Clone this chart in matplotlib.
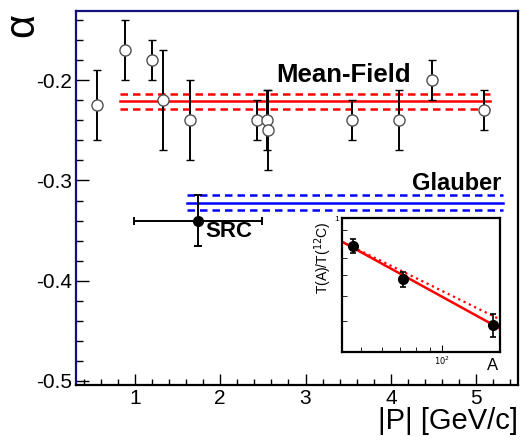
import matplotlib
matplotlib.use("Agg")
import matplotlib.pyplot as plt
import numpy as np

plt.rcParams['font.family'] = ['Liberation Sans', 'DejaVu Sans']
plt.rcParams['axes.unicode_minus'] = False

# ---- data ----
p_mom = [0.56, 0.88, 1.20, 1.33, 1.65, 2.43, 2.545, 2.56, 3.54, 4.10, 4.48, 5.09]
alpha_vals = [-0.225, -0.17, -0.18, -0.22, -0.24, -0.24, -0.24, -0.25, -0.24, -0.24, -0.20, -0.23]
alpha_err = [0.035, 0.03, 0.02, 0.05, 0.04, 0.02, 0.03, 0.04, 0.02, 0.03, 0.02, 0.02]

mf_value, mf_err = -0.221, 0.0075
mf_range = [0.82, 5.16]
gl_value, gl_err = -0.322, 0.007
gl_range = [1.61, 5.32]

src_p, src_perr = 1.74, 0.75
src_alpha, src_aerr = -0.34, 0.025

# inset
ins_A = [46.7, 71.7, 154.0]
ins_T = [0.782, 0.579, 0.385]
ins_Terr = [0.05, 0.04, 0.038]
ins_xlim = [42.6, 164.0]
ins_ylim = [0.303, 1.0]
fit_norm = 0.811          # value at A = ins_xlim[0]
fit_slopes = [-0.577, -0.516]

# ---- figure ----
fig = plt.figure(figsize=(5.2, 4.41), dpi=100)
ax = fig.add_axes([76/520, 1-385/441, (518-76)/520, (385-11)/441])
ax.set_xlim(0.31, 5.49)
ax.set_ylim(-0.504, -0.131)

navy = '#12127a'
for s in ['left', 'top']:
    ax.spines[s].set_color(navy)
for s in ax.spines.values():
    s.set_linewidth(1.6)

ax.set_yticks([-0.5, -0.4, -0.3, -0.2])
ax.set_yticklabels(['-0.5', '-0.4', '-0.3', '-0.2'])
ax.set_yticks(np.arange(-0.50, -0.13, 0.02), minor=True)
ax.set_xticks([1, 2, 3, 4, 5])
ax.set_xticks(np.arange(0.4, 5.5, 0.2), minor=True)
ax.tick_params(axis='both', which='both', direction='in', width=1.0, labelsize=15, pad=3)
ax.tick_params(axis='y', which='major', length=9.5)
ax.tick_params(axis='y', which='minor', length=5)
ax.tick_params(axis='x', which='major', length=8)
ax.tick_params(axis='x', which='minor', length=4)

# mean-field band
ax.plot(mf_range, [mf_value]*2, color='red', lw=1.8)
for sgn in (-1, 1):
    ax.plot(mf_range, [mf_value + sgn*mf_err]*2, color='red', lw=1.8, ls=(0, (3, 2)))
# glauber band
ax.plot(gl_range, [gl_value]*2, color='blue', lw=1.8)
for sgn in (-1, 1):
    ax.plot(gl_range, [gl_value + sgn*gl_err]*2, color='blue', lw=1.8, ls=(0, (3, 2)))

# data
ax.errorbar(p_mom, alpha_vals, yerr=alpha_err, fmt='o', ms=8, mfc='white', mec='#505050',
            mew=1.0, ecolor='black', elinewidth=1.4, capsize=3, capthick=1.4, zorder=5)
ax.errorbar([src_p], [src_alpha], xerr=[src_perr], yerr=[src_aerr], fmt='o', ms=7,
            color='black', elinewidth=1.4, capsize=3, capthick=1.4, zorder=6)

ax.text(2.66, -0.2017, 'Mean-Field', fontsize=18.5, fontweight='bold', ha='left', va='baseline')
ax.text(5.30, -0.310, 'Glauber', fontsize=17, fontweight='bold', ha='right', va='baseline')
ax.text(1.83, -0.3567, 'SRC', fontsize=16, fontweight='bold', ha='left', va='baseline')

ax.set_xlabel('|P| [GeV/c]', fontsize=21, ha='right', va='center')
ax.xaxis.set_label_coords(1.0, -(421-385)/374)
ax.set_ylabel('α', fontsize=30, ha='center', va='center')
ax.yaxis.set_label_coords((22-76)/442, (385-25)/374)

# ---- inset ----
ax2 = fig.add_axes([342/520, 1-351.7/441, (500-342)/520, (351.7-218.3)/441])
ax2.set_xscale('log')
ax2.set_yscale('log')
ax2.set_xlim(*ins_xlim)
ax2.set_ylim(*ins_ylim)
for s in ax2.spines.values():
    s.set_linewidth(1.6)
    s.set_color('black')

A_line = np.geomspace(ins_xlim[0], ins_xlim[1], 50)
ax2.plot(A_line, fit_norm*(A_line/ins_xlim[0])**fit_slopes[0], color='red', lw=1.8)
ax2.plot(A_line, fit_norm*(A_line/ins_xlim[0])**fit_slopes[1], color='red', lw=1.6, ls=':')
ax2.errorbar(ins_A, ins_T, yerr=ins_Terr, fmt='o', ms=7, color='black',
             elinewidth=1.2, capsize=2, capthick=1.2, zorder=5)

ax2.set_xticks([100])
ax2.set_xticklabels(['$10^2$'])
ax2.set_xticks([50, 60, 70, 80, 90], minor=True)
ax2.set_xticklabels([], minor=True)
ax2.set_yticks([1.0])
ax2.set_yticklabels(['1'])
ax2.set_yticks([0.4, 0.5, 0.6, 0.7, 0.8, 0.9], minor=True)
ax2.set_yticklabels([], minor=True)
ax2.tick_params(axis='both', which='both', direction='in', labelsize=6, pad=2)
ax2.tick_params(which='major', length=5)
ax2.tick_params(which='minor', length=3.5)
ax2.set_xlabel('A', fontsize=12, ha='center', va='center')
ax2.xaxis.set_label_coords((493-342)/158, -(365-351.7)/133.4)
ax2.set_ylabel('T(A)/T($^{12}$C)', fontsize=10, ha='center', va='center')
ax2.yaxis.set_label_coords((323-342)/158, (351.7-258)/133.4)

fig.savefig('out.png', dpi=100)
